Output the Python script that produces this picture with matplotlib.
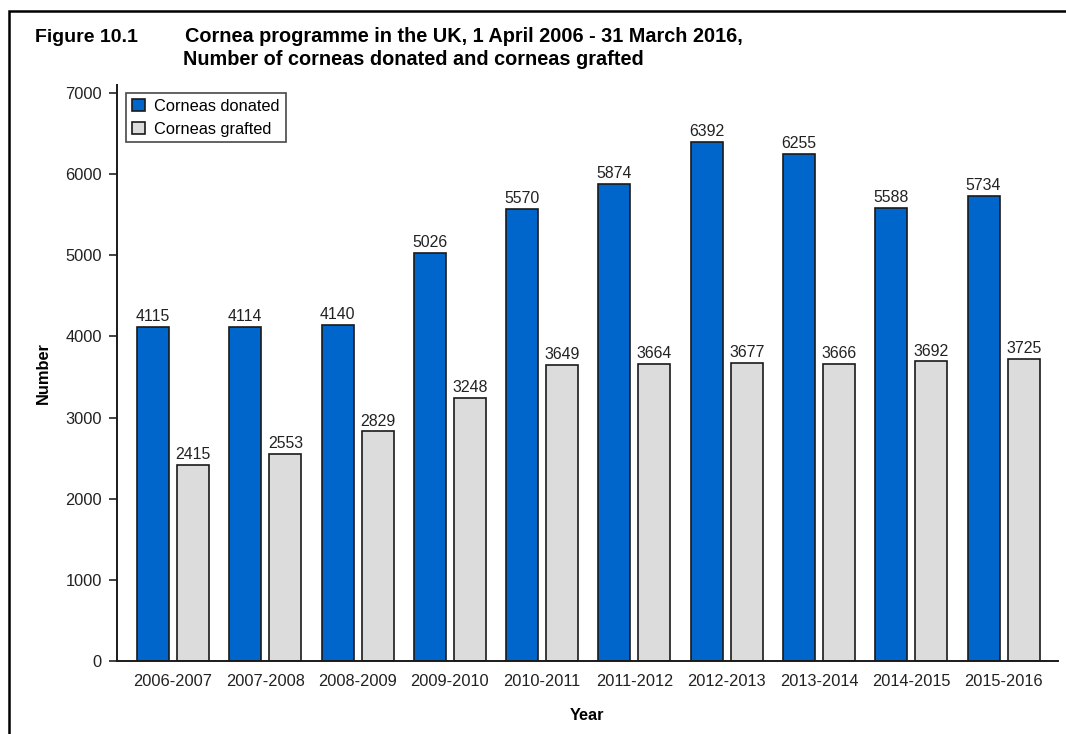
import matplotlib
matplotlib.use("Agg")
import matplotlib.pyplot as plt
import numpy as np
from matplotlib.patches import Rectangle

plt.rcParams['font.family'] = ['Liberation Sans', 'DejaVu Sans']

years = ["2006-2007", "2007-2008", "2008-2009", "2009-2010", "2010-2011",
         "2011-2012", "2012-2013", "2013-2014", "2014-2015", "2015-2016"]
donated = [4115, 4114, 4140, 5026, 5570, 5874, 6392, 6255, 5588, 5734]
grafted = [2415, 2553, 2829, 3248, 3649, 3664, 3677, 3666, 3692, 3725]

W, H = 1066, 734
fig = plt.figure(figsize=(W / 100, H / 100), dpi=100)
ax = fig.add_axes([117 / W, 1 - 661 / H, (1058 - 117) / W, (661 - 85) / H])

FS = 11.8
x = np.arange(len(years))
bw = 0.347
off = 0.217
blue = "#0066CC"
grey = "#DCDCDC"
b1 = ax.bar(x - off, donated, bw, color=blue, edgecolor="#1a1a1a", linewidth=1.2, label="Corneas donated")
b2 = ax.bar(x + off, grafted, bw, color=grey, edgecolor="#1a1a1a", linewidth=1.2, label="Corneas grafted")

for bars, vals in ((b1, donated), (b2, grafted)):
    for r, v in zip(bars, vals):
        ax.annotate(f"{v}", (r.get_x() + r.get_width() / 2, v), xytext=(0, 4.3),
                    textcoords="offset points", ha="center", va="baseline", fontsize=11.4, color="#222222")

ax.set_xlim(-0.607, 9.59)
ax.set_ylim(0, 7100)
ax.set_yticks(range(0, 7001, 1000))
ax.set_xticks(x)
ax.set_xticklabels(years, fontsize=FS, color="#222222")
ax.tick_params(axis="y", labelsize=FS, colors="#222222", length=6, width=1.2, direction="out", pad=5)
ax.tick_params(axis="x", length=0, pad=9)
for s in ("top", "right"):
    ax.spines[s].set_visible(False)
for s in ("left", "bottom"):
    ax.spines[s].set_linewidth(1.4)
    ax.spines[s].set_color("#1a1a1a")

ax.set_xlabel("Year", fontsize=FS, fontweight="bold", labelpad=14)
ax.set_ylabel("Number", fontsize=FS, fontweight="bold", labelpad=10)

leg = ax.legend(loc="upper left", bbox_to_anchor=(9 / 941, 1 - 8 / 576), fontsize=FS,
                frameon=True, fancybox=False, edgecolor="#1a1a1a", borderpad=0.35,
                handlelength=0.78, handleheight=0.78, handletextpad=0.6, labelspacing=0.48,
                borderaxespad=0)
leg.get_frame().set_linewidth(1.2)

TS = 14.3
fig.text(35 / W, 1 - 42 / H, "Figure 10.1", fontsize=14, fontweight="bold", va="baseline", ha="left")
fig.text(185 / W, 1 - 42 / H, "Cornea programme in the UK, 1 April 2006 - 31 March 2016,",
         fontsize=TS, fontweight="bold", va="baseline", ha="left")
fig.text(183 / W, 1 - 65 / H, "Number of corneas donated and corneas grafted",
         fontsize=TS, fontweight="bold", va="baseline", ha="left")

fig.add_artist(Rectangle((9 / W, -0.1), 1.2, 1 - 11 / H + 0.1, transform=fig.transFigure,
                         fill=False, edgecolor="black", linewidth=1.8))

fig.savefig("out.png", dpi=100)
